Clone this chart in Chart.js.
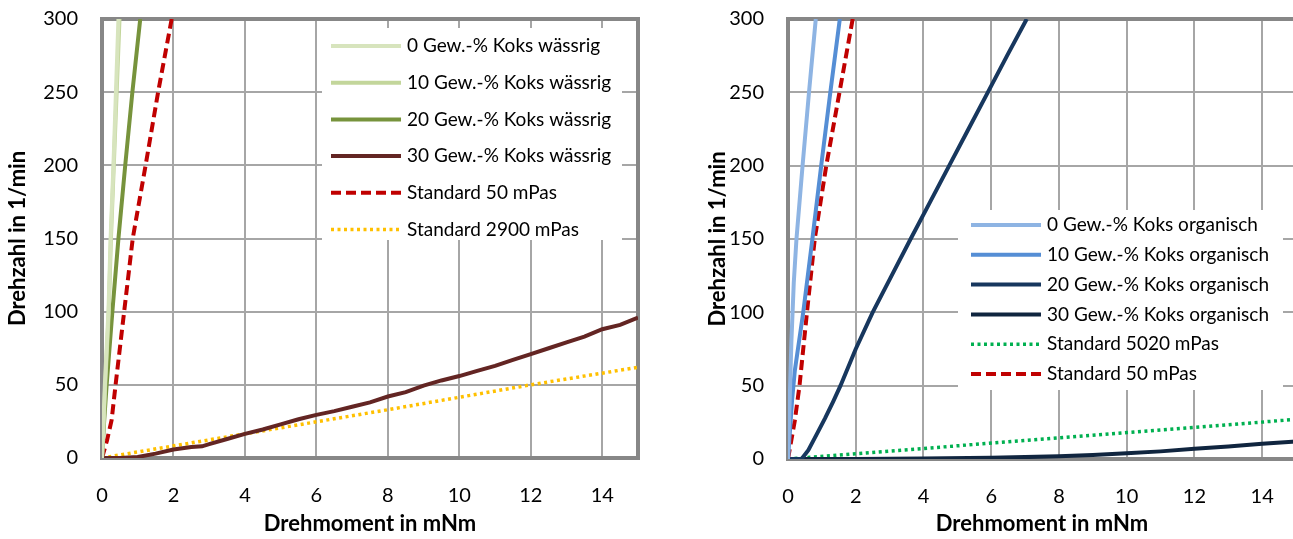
<!DOCTYPE html>
<html>
<head>
<meta charset="utf-8">
<title>Drehzahl über Drehmoment</title>
<script src="https://cdn.jsdelivr.net/npm/chart.js@4.4.1/dist/chart.umd.min.js"></script>
<style>
  html, body { margin: 0; padding: 0; background: #fff; overflow: hidden; width: 1293px; height: 539px; }
  #chartLeft { position: absolute; left: 0; top: 0; }
  #chartRight { position: absolute; left: 700px; top: 0; }
</style>
</head>
<body>
<canvas id="chartLeft" width="660" height="539"></canvas>
<canvas id="chartRight" width="620" height="539"></canvas>
<script>
// Achsen
const xTickValues = [0, 2, 4, 6, 8, 10, 12, 14]
const yTickValues = [0, 50, 100, 150, 200, 250, 300]

// Linkes Diagramm: wässrig (x = Drehmoment mNm, y = Drehzahl 1/min)
const w0X = [0, 0.04, 0.08, 0.13, 0.18, 0.24, 0.32, 0.39, 0.46]
const w0Y = [0, 25, 50, 75, 100, 150, 200, 250, 300]
const w10X = [0, 0.05, 0.09, 0.14, 0.19, 0.25, 0.33, 0.41, 0.49]
const w10Y = [0, 25, 50, 75, 100, 150, 200, 250, 300]
const w20X = [0, 0.06, 0.13, 0.21, 0.29, 0.46, 0.65, 0.85, 1.07]
const w20Y = [0, 25, 50, 75, 100, 150, 200, 250, 300]
const w30X = [0, 0.5, 1, 1.5, 2, 2.5, 2.8, 3, 3.5, 4, 4.5, 5, 5.5, 6, 6.5, 7, 7.5, 8, 8.5, 9, 9.5, 10, 10.5, 11, 11.5, 12, 12.5, 13, 13.5, 14, 14.5, 15]
const w30Y = [0, 0, 0.7, 3, 5.8, 7.5, 8, 9.5, 13, 16.5, 19.5, 23, 26.5, 29.5, 32, 35, 38, 42, 45, 49.5, 53, 56, 59.5, 63, 67, 71, 75, 79, 83, 88, 91, 96]
const std50LX = [0, 0.14, 0.27, 0.38, 0.62, 0.86, 1.22, 1.57, 1.95]
const std50LY = [0, 12, 26, 50, 100, 150, 200, 250, 300]
const std2900X = [0, 4, 8, 12, 15]
const std2900Y = [0, 16.5, 33, 50, 62]

// Rechtes Diagramm: organisch
const o0X = [0, 0.05, 0.1, 0.17, 0.25, 0.43, 0.62, 0.82]
const o0Y = [0, 40, 80, 120, 150, 200, 250, 300]
const o10X = [0, 0.12, 0.2, 0.45, 0.72, 0.98, 1.25, 1.53]
const o10Y = [0, 40, 60, 100, 150, 200, 250, 300]
const o20X = [0, 0.4, 0.6, 0.85, 1.1, 1.33, 1.55, 2.0, 2.5, 3.06, 3.62, 4.19, 4.76, 5.33, 5.9, 6.47, 7.05]
const o20Y = [0, 0, 6, 17, 28, 39, 50, 75, 100, 125, 150, 175, 200, 225, 250, 275, 300]
const o30X = [0, 2, 4, 6, 7, 8, 9, 10, 11, 12, 13, 14, 15]
const o30Y = [0, 0, 0.4, 0.9, 1.3, 1.9, 2.8, 3.9, 5.2, 7, 8.6, 10.4, 12]
const std5020X = [0, 5, 10, 15]
const std5020Y = [0, 9, 18, 27]
const std50RX = [0, 0.2, 0.34, 0.56, 0.79, 1.13, 1.52, 1.91]
const std50RY = [0, 26, 50, 100, 150, 200, 250, 300]

const toPoints = (xs, ys) => xs.map((x, i) => ({ x: x, y: ys[i] }))

Chart.defaults.font.family = "Lato"
Chart.defaults.font.size = 20
Chart.defaults.color = "#000"

// Rahmen um die Zeichenfläche
const plotFrame = {
  id: "plotFrame",
  beforeDatasetsDraw(chart) {
    const { ctx, chartArea: a } = chart
    ctx.save()
    ctx.strokeStyle = "#878787"
    ctx.lineWidth = 4
    ctx.strokeRect(a.left, a.top, a.right - a.left, a.bottom - a.top)
    ctx.restore()
  },
}

// Legende innerhalb der Zeichenfläche (wie in Excel)
const boxLegend = {
  id: "boxLegend",
  afterDatasetsDraw(chart, args, opts) {
    const ctx = chart.ctx
    ctx.save()
    ctx.fillStyle = "#fff"
    ctx.fillRect(opts.x, opts.y, opts.width, opts.height)
    ctx.font = "19px Lato"
    ctx.textBaseline = "middle"
    chart.data.datasets.forEach((ds, i) => {
      const y = opts.firstRow + i * opts.rowGap
      ctx.beginPath()
      ctx.setLineDash(ds.borderDash || [])
      ctx.lineWidth = ds.borderWidth
      ctx.strokeStyle = ds.borderColor
      ctx.moveTo(opts.lineStart, y)
      ctx.lineTo(opts.lineEnd, y)
      ctx.stroke()
      ctx.fillStyle = "#000"
      ctx.fillText(ds.label, opts.textX, y)
    })
    ctx.restore()
  },
}

function series(label, xs, ys, color, style) {
  const ds = {
    label: label,
    data: toPoints(xs, ys),
    borderColor: color,
    backgroundColor: color,
    borderWidth: 4,
    pointRadius: 0,
    tension: 0,
    fill: false,
  }
  if (style === "dash") {
    ds.borderDash = [10, 5]
  } else if (style === "dot") {
    ds.borderDash = [3, 3.5]
    ds.borderWidth = 3.5
  }
  return ds
}

function makeOptions(yAxisWidth, xAxisHeight, padRight, legend) {
  return {
    responsive: false,
    animation: false,
    layout: { padding: { top: 19, right: padRight, bottom: 0, left: 0 } },
    scales: {
      x: {
        type: "linear",
        min: 0,
        max: 15,
        afterBuildTicks: (s) => { s.ticks = xTickValues.map((v) => ({ value: v })) },
        afterFit: (s) => { s.height = xAxisHeight },
        grid: { color: "#a6a6a6", lineWidth: 2, drawTicks: false },
        border: { display: false },
        ticks: { padding: 26, font: { size: 20 } },
        title: {
          display: true,
          text: "Drehmoment in mNm",
          font: { size: 22, weight: "bold" },
          padding: { top: 0, bottom: 2 },
        },
      },
      y: {
        type: "linear",
        min: 0,
        max: 300,
        afterBuildTicks: (s) => { s.ticks = yTickValues.map((v) => ({ value: v })) },
        afterFit: (s) => { s.width = yAxisWidth },
        // Abstand über unsichtbare Tick-Striche statt ticks.padding
        grid: { color: "#a6a6a6", lineWidth: 2, drawTicks: true, tickLength: 24, tickColor: "rgba(0,0,0,0)" },
        border: { display: false },
        ticks: { padding: 0, font: { size: 20 } },
        title: {
          display: true,
          text: "Drehzahl in 1/min",
          font: { size: 22, weight: "bold" },
          padding: { top: 5, bottom: 0 },
        },
      },
    },
    plugins: {
      legend: { display: false },
      tooltip: { enabled: false },
      boxLegend: legend,
    },
  }
}

new Chart(document.getElementById("chartLeft"), {
  type: "line",
  data: {
    datasets: [
      series("0 Gew.-% Koks wässrig", w0X, w0Y, "#d7e4bd"),
      series("10 Gew.-% Koks wässrig", w10X, w10Y, "#c3d69b"),
      series("20 Gew.-% Koks wässrig", w20X, w20Y, "#77933c"),
      series("30 Gew.-% Koks wässrig", w30X, w30Y, "#632523"),
      series("Standard 50 mPas", std50LX, std50LY, "#c00000", "dash"),
      series("Standard 2900 mPas", std2900X, std2900Y, "#ffc000", "dot"),
    ],
  },
  options: makeOptions(102, 81, 22, {
    x: 322, y: 28, width: 300, height: 212,
    firstRow: 46, rowGap: 36.7, lineStart: 331, lineEnd: 401, textX: 407,
  }),
  plugins: [plotFrame, boxLegend],
})

new Chart(document.getElementById("chartRight"), {
  type: "line",
  data: {
    datasets: [
      series("0 Gew.-% Koks organisch", o0X, o0Y, "#8eb4e3"),
      series("10 Gew.-% Koks organisch", o10X, o10Y, "#558ed5"),
      series("20 Gew.-% Koks organisch", o20X, o20Y, "#17375e"),
      series("30 Gew.-% Koks organisch", o30X, o30Y, "#10253f"),
      series("Standard 5020 mPas", std5020X, std5020Y, "#00b050", "dot"),
      series("Standard 50 mPas", std50RX, std50RY, "#c00000", "dash"),
    ],
  },
  options: makeOptions(88, 80, 24, {
    x: 258, y: 210, width: 325, height: 180,
    firstRow: 225, rowGap: 29.8, lineStart: 271, lineEnd: 341, textX: 347,
  }),
  plugins: [plotFrame, boxLegend],
})
</script>
</body>
</html>
